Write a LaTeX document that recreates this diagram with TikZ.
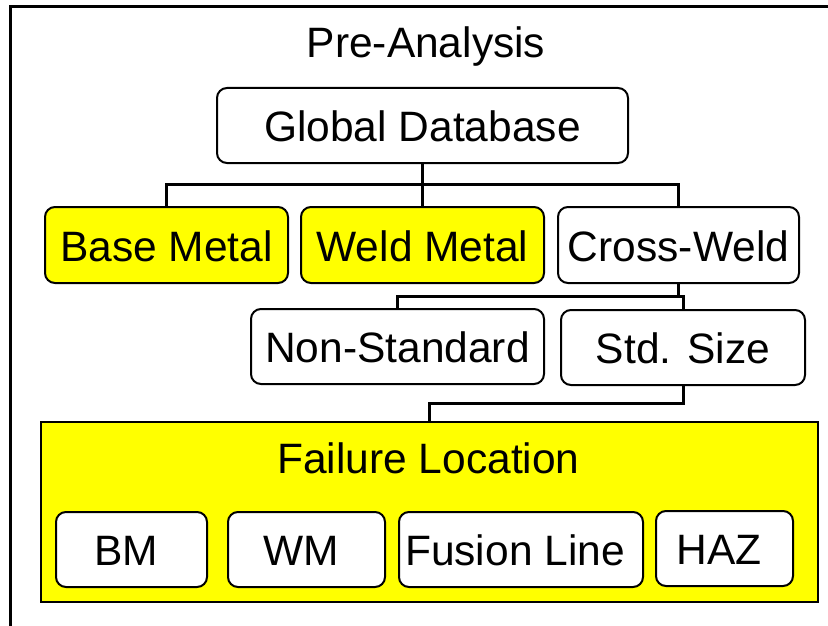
\documentclass[tikz,border=0pt]{standalone}
\usepackage{fontspec}
\setmainfont{Liberation Sans}
\definecolor{ylw}{RGB}{255,255,0}
\begin{document}
\begin{tikzpicture}[x=1pt,y=-1pt,
  lbl/.style={font=\fontsize{42.5}{50}\selectfont, text height=32pt, text depth=0pt},
  box/.style={lbl, draw=black, line width=2pt, rounded corners=10pt, fill=white, inner sep=0pt},
  ybox/.style={box, fill=ylw},
  conn/.style={draw=black, line width=3pt}]
\useasboundingbox (0,0) rectangle (828,626);
% outer frame
\draw[line width=3pt] (10.5,660) -- (10.5,6.5) -- (860,6.5);
% title
\node[font=\fontsize{42.5}{50}\selectfont, anchor=base, inner sep=0pt] (pre) at (426,58) {Pre-Analysis};
% level 1
\node[box, minimum width=411, minimum height=75] (gd) at (422.5,125.5) {Global Database};
% level 2
\node[ybox, minimum width=243, minimum height=76] (base) at (166.5,245) {Base Metal};
\node[ybox, minimum width=243, minimum height=76] (weld) at (422.5,245) {Weld Metal};
\node[box, minimum width=241, minimum height=76] (cross) at (678.5,245) {Cross-Weld};
% level 3
\node[box, minimum width=293, minimum height=75] (ns) at (397.5,346.5) {Non-Standard};
\node[box, minimum width=244, minimum height=75] (ss) at (683,347.5) {Std. Size};
% failure location
\node[draw=black, line width=2.5pt, fill=ylw, minimum width=777, minimum height=180, inner sep=0pt] (fl) at (429.5,512) {};
\node[font=\fontsize{42.5}{50}\selectfont, anchor=base, inner sep=0pt] (fltxt) at (428.5,473) {Failure Location};
\node[box, minimum width=151, minimum height=75] (bm) at (131.5,549.5) {\hspace*{-11pt}BM};
\node[box, minimum width=157, minimum height=75] (wm) at (306.5,549.5) {\hspace*{-11pt}WM};
\node[box, minimum width=244, minimum height=75] (fus) at (521,549.5) {\hspace*{-12pt}Fusion Line};
\node[box, minimum width=137, minimum height=75] (haz) at (724.5,548.5) {\hspace*{-11pt}HAZ};
% connectors
\coordinate (j0) at (422.5,184);
\draw[conn] (gd.south) -- (j0);
\draw[conn] (j0) -| (base.north);
\draw[conn] (j0) -- (weld.north);
\draw[conn] (j0) -| (cross.north);
\coordinate (j1) at (678.5,296);
\draw[conn] (cross.south) -- (j1);
\draw[conn] (j1) -| (ns.north);
\draw[conn] (j1) -| (ss.north);
\coordinate (j2) at (683,403);
\draw[conn] (ss.south) -- (j2) -| (fl.north);
\end{tikzpicture}
\end{document}
